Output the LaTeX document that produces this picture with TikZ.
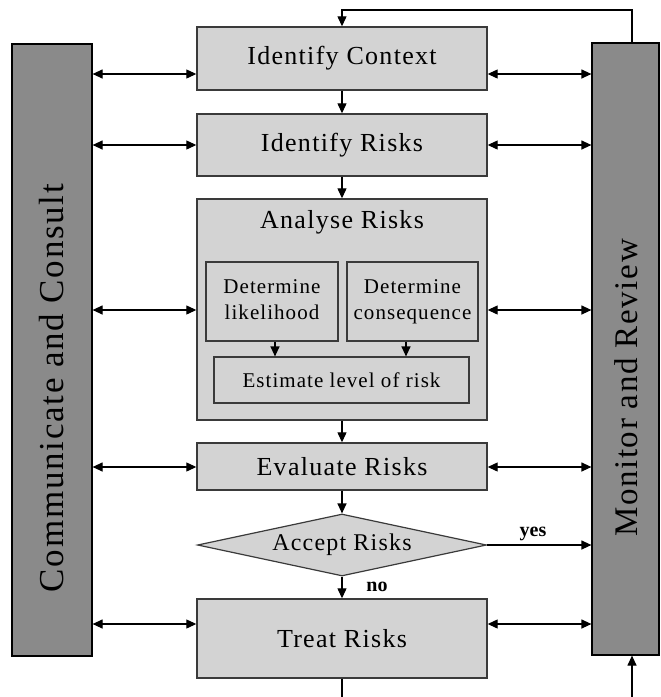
\documentclass[tikz,border=0pt]{standalone}
\usepackage{fontspec}
\setmainfont{Liberation Serif}
\newfontfamily\boxfont[LetterSpace=5]{Liberation Serif}
\usetikzlibrary{arrows.meta,shapes.geometric}
\definecolor{boxfill}{HTML}{D3D3D3}
\definecolor{barfill}{HTML}{8A8A8A}
\definecolor{boxline}{HTML}{3A3A3A}

\begin{document}
\begin{tikzpicture}[x=1pt,y=-1pt,
  >={Triangle[length=10pt,width=9pt]},
  stage/.style={draw=boxline, line width=1.4pt, fill=boxfill, minimum width=290pt,
    inner sep=0pt, font=\boxfont\fontsize{26}{28}\selectfont},
  substage/.style={draw=boxline, line width=1.2pt, fill=boxfill, inner sep=0pt,
    align=center, font=\boxfont\fontsize{21}{26}\selectfont},
  decision/.style={diamond, draw=boxline, line width=1.2pt, fill=boxfill, inner sep=0pt,
    aspect=4.6, minimum width=289pt, minimum height=62pt,
    font=\boxfont\fontsize{24}{26}\selectfont},
  bar/.style={draw=black, line width=1.2pt, fill=barfill, inner sep=0pt},
  bartext/.style={rotate=90, inner sep=0pt},
  link/.style={draw=black, line width=1.2pt},
  answer/.style={inner sep=0pt, font=\bfseries\fontsize{20}{22}\selectfont}]

\useasboundingbox (0,0) rectangle (661,697);
\clip (0,0) rectangle (661,697);
\fill[white] (0,0) rectangle (661,697);

% side bars
\node[bar, minimum width=80pt, minimum height=612pt] (comm) at (52,350) {};
\node[bar, minimum width=67pt, minimum height=612pt] (mon) at (625.5,349) {};
\node[bartext, font=\boxfont\fontsize{35}{37}\selectfont] (commtxt) at (52,388) {Communicate and Consult};
\node[bartext, font=\boxfont\fontsize{33}{35}\selectfont] (montxt) at (626,388) {Monitor and Review};

% process stages
\node[stage, minimum height=63pt] (ctx) at (342,58.5) {Identify Context};
\node[stage, minimum height=62pt] (idr) at (342,145) {Identify Risks};
\node[stage, minimum height=221pt] (ana) at (342,309.5) {};
\node[inner sep=0pt, font=\boxfont\fontsize{26}{28}\selectfont] (anatitle) at (342,222) {Analyse Risks};
\node[substage, minimum width=132pt, minimum height=79pt] (lik) at (272,301.5) {Determine\\likelihood\vphantom{q}};
\node[substage, minimum width=131pt, minimum height=79pt] (con) at (412.5,301.5) {Determine\\consequence};
\node[substage, minimum width=255pt, minimum height=46pt] (est) at (341.5,380) {Estimate level of risk};
\node[stage, minimum height=47pt] (eva) at (342,466.5) {Evaluate Risks};
\node[decision] (acc) at (342,545) {Accept Risks};
\node[stage, minimum height=79pt] (trt) at (342,638.5) {Treat Risks};

% two-way links to the side bars
\foreach \n/\y in {ctx/74, idr/145, ana/310, eva/467, trt/624} {
  \coordinate (lvl\n) at (0,\y);
  \draw[link,<->] (comm.east |- lvl\n) -- (\n.west |- lvl\n);
  \draw[link,<->] (\n.east |- lvl\n) -- (mon.west |- lvl\n);
}

% main flow
\draw[link,->] (ctx.south) -- (idr.north);
\draw[link,->] (idr.south) -- (ana.north);
\draw[link,->] ([xshift=3pt]lik.south) -- ([xshift=3pt]lik.south |- est.north);
\draw[link,->] ([xshift=-6.5pt]con.south) -- ([xshift=-6.5pt]con.south |- est.north);
\draw[link,->] (ana.south) -- (eva.north);
\draw[link,->] (eva.south) -- (acc.north);
\draw[link,->] (acc.south) -- (trt.north);
\draw[link,->] (acc.east) -- (mon.west |- acc.east);
\node[answer] (yeslbl) at (533,534) {yes};
\node[answer] (nolbl) at (377,587) {no};

% feedback loop through monitoring
\coordinate (looptop) at (632,10);
\coordinate (loopbot) at (632,715);
\draw[link,->] (mon.north -| looptop) -- (looptop) -- (ctx.north |- looptop) -- (ctx.north);
\draw[link,->] (trt.south) -- (trt.south |- loopbot) -- (loopbot) -- (mon.south -| loopbot);
\end{tikzpicture}
\end{document}
